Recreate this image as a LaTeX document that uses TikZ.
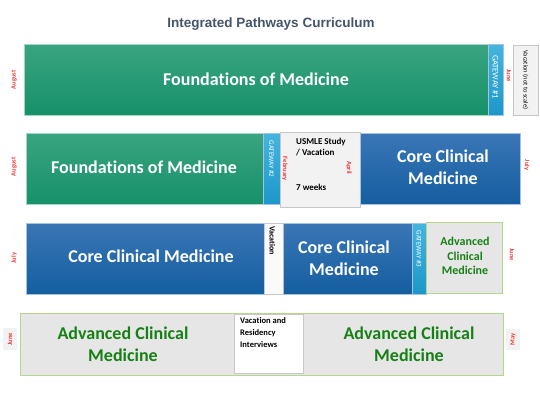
\documentclass[tikz,border=0pt]{standalone}
\usepackage{fontspec}
\setmainfont{Carlito}[Ligatures=NoCommon]
\newfontfamily\titlefont{Liberation Sans}

\begin{document}
\begin{tikzpicture}[x=1pt,y=-1pt,line join=miter]
  % ----- styles & colors -----
  \definecolor{fdtop}{RGB}{58,164,128}     % foundations green
  \definecolor{fdbot}{RGB}{22,145,106}
  \definecolor{fdedge}{RGB}{160,215,195}
  \definecolor{cctop}{RGB}{58,118,182}     % core clinical blue
  \definecolor{ccbot}{RGB}{20,94,160}
  \definecolor{ccedge}{RGB}{165,195,225}
  \definecolor{gttop}{RGB}{70,180,222}     % gateway cyan
  \definecolor{gtbot}{RGB}{28,152,202}
  \definecolor{advfill}{RGB}{230,230,230}
  \definecolor{advedge}{RGB}{180,215,140}
  \definecolor{advgreen}{RGB}{22,128,22}
  \definecolor{vacfill}{RGB}{242,242,242}
  \definecolor{vacedge}{RGB}{200,200,200}
  \definecolor{monthred}{RGB}{238,55,55}
  \definecolor{titleblue}{RGB}{68,84,106}
  \tikzset{
    fdbox/.style={draw=fdedge,line width=0.8pt,top color=fdtop,bottom color=fdbot},
    ccbox/.style={draw=ccedge,line width=0.8pt,top color=cctop,bottom color=ccbot},
    gatebox/.style={draw=ccedge,line width=0.6pt,top color=gttop,bottom color=gtbot},
    advbox/.style={draw=advedge,line width=1pt,fill=advfill},
    vacbox/.style={draw=vacedge,line width=0.6pt,fill=vacfill},
    bigtext/.style={font=\bfseries\fontsize{18}{22}\selectfont,text=white,align=center},
    advtext/.style={font=\bfseries\fontsize{18}{22}\selectfont,text=advgreen,align=center},
    gatetext/.style={font=\fontsize{7}{8}\selectfont,text=white,rotate=-90,inner sep=0pt},
    vactext/.style={font=\bfseries\fontsize{8.5}{12}\selectfont,align=left,inner sep=0pt},
    month/.style={font=\bfseries\fontsize{6.5}{7}\selectfont,text=monthred,inner sep=0pt}
  }
  \useasboundingbox (0,0) rectangle (540,400);

  % ----- title -----
  \node[font=\titlefont\bfseries\fontsize{13.5}{15}\selectfont,text=titleblue] (title) at (271,24)
    {Integrated Pathways Curriculum};

  % ----- row 1 -----
  \path[fdbox] (24,44) rectangle (488,115);
  \node[bigtext] (fdA) at (256,79) {Foundations of Medicine};
  \path[gatebox] (488,44) rectangle (503,115);
  \node[gatetext,font=\fontsize{8.5}{9}\selectfont] (gwA) at (495.5,77) {GATEWAY \#1};
  \path[vacbox] (513,45) rectangle (538,115);
  \node[font=\fontsize{6.5}{7}\selectfont,rotate=-90,inner sep=0pt] (vacA) at (525.5,80)
    {Vacation (not to scale)};

  % ----- row 2 -----
  \path[fdbox] (26,133) rectangle (263,204);
  \node[bigtext] (fdB) at (144,167) {Foundations of Medicine};
  \path[gatebox] (263,133) rectangle (280,204);
  \node[gatetext] (gwB) at (271.5,159) {GATEWAY \#2};
  \path[vacbox] (280,132) rectangle (360,207);
  \node[vactext,font=\bfseries\fontsize{9}{11}\selectfont,anchor=north west] (usmle) at (296,138)
    {USMLE Study\\/ Vacation};
  \node[vactext,font=\bfseries\fontsize{9}{11}\selectfont,anchor=west] (weeks) at (296,187) {7 weeks};
  \path[ccbox] (360,133) rectangle (520,204);
  \node[bigtext] (ccB) at (443,167) {Core Clinical\\Medicine};

  % ----- row 3 -----
  \path[ccbox] (26,223) rectangle (264,294);
  \node[bigtext] (ccC) at (151,256) {Core Clinical Medicine};
  \path[vacbox,fill=white!60!vacfill] (264,223) rectangle (283,294);
  \node[vactext,font=\bfseries\fontsize{8}{9}\selectfont,rotate=-90,anchor=west] (vacC) at (272.5,226) {Vacation};
  \path[ccbox] (283,223) rectangle (412,294);
  \node[bigtext] (ccD) at (344,258) {Core Clinical\\Medicine};
  \path[gatebox] (412,223) rectangle (426,294);
  \node[gatetext] (gwC) at (419,249) {GATEWAY \#3};
  \path[advbox] (426,222) rectangle (502,293);
  \node[advtext,font=\bfseries\fontsize{12}{14.5}\selectfont] (advC) at (465,256)
    {Advanced\\Clinical\\Medicine};

  % ----- row 4 -----
  \path[advbox] (20,313) rectangle (503,375);
  \path[fill=white,draw=vacedge,line width=0.4pt] (234,314) rectangle (303,373);
  \node[vactext,anchor=north west] (resid) at (240,317)
    {Vacation and\\Residency\\Interviews};
  \node[advtext] (advD) at (123,344) {Advanced Clinical\\Medicine};
  \node[advtext] (advE) at (409,344) {Advanced Clinical\\Medicine};
  \path[fill=vacfill] (3,328) rectangle (17,350);
  \path[fill=vacfill] (506,329) rectangle (520,350);

  % ----- months -----
  \foreach \x/\y/\r/\m in {14/80/90/August, 509/76/-90/June,
      14/167/90/August, 285/169/-90/February, 349/168/-90/April, 527/165/-90/July,
      14/258/90/July, 512/255/-90/June,
      10/339/90/June, 513/339.5/90/May}{
    \node[month,rotate=\r] (m-\m-\y) at (\x,\y) {\m};
  }

\end{tikzpicture}
\end{document}
